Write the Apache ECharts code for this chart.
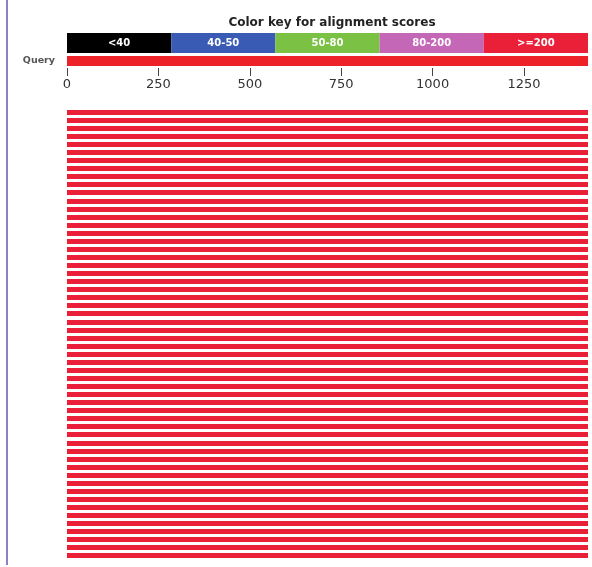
<!DOCTYPE html>
<html>
<head>
<meta charset="utf-8">
<script src="https://cdn.jsdelivr.net/npm/echarts@6/dist/echarts.min.js"></script>
<style>
  html, body { margin: 0; padding: 0; background: #fff; }
  #chart { width: 592px; height: 567px; }
</style>
</head>
<body>
<div id="chart"></div>
<script>
// Score classes shown in the colour key
const keyLabels = ['<40', '40-50', '50-80', '80-200', '>=200'];
const keyColors = ['#000000', '#3a5bb4', '#7bc143', '#c367b6', '#ea2039'];

// Query sequence and its coordinate ticks
const queryLength = 1425;
const tickValues = [0, 250, 500, 750, 1000, 1250];

// Aligned hits: start and end on the query (all scoring >=200)
const hitStart = [
  1, 1, 1, 1, 1, 1, 1, 1, 1, 1, 1, 1, 1, 1,
  1, 1, 1, 1, 1, 1, 1, 1, 1, 1, 1, 1, 1, 1,
  1, 1, 1, 1, 1, 1, 1, 1, 1, 1, 1, 1, 1, 1,
  1, 1, 1, 1, 1, 1, 1, 1, 1, 1, 1, 1, 1, 1
];
const hitEnd = [
  1425, 1425, 1425, 1425, 1425, 1425, 1425, 1425, 1425, 1425, 1425, 1425, 1425, 1425,
  1425, 1425, 1425, 1425, 1425, 1425, 1425, 1425, 1425, 1425, 1425, 1425, 1425, 1425,
  1425, 1425, 1425, 1425, 1425, 1425, 1425, 1425, 1425, 1425, 1425, 1425, 1425, 1425,
  1425, 1425, 1425, 1425, 1425, 1425, 1425, 1425, 1425, 1425, 1425, 1425, 1425, 1425
];
const hitClass = 4; // index into keyColors

const font = 'DejaVu Sans, Verdana, sans-serif';
const chart = echarts.init(document.getElementById('chart'), null, { renderer: 'canvas' });

const hitRows = hitStart.map((_, i) => i);
const hitData = hitStart.map((s, i) => [s, hitEnd[i], i]);

chart.setOption({
  animation: false,
  backgroundColor: '#ffffff',
  graphic: [
    { type: 'rect', shape: { x: 6, y: 0, width: 2, height: 565 }, style: { fill: '#8783c6' }, silent: true },
    {
      type: 'text', x: 332, y: 23,
      style: {
        text: 'Color key for alignment scores', fill: '#222',
        font: 'bold 12px ' + font, align: 'center', verticalAlign: 'middle'
      }
    }
  ],
  grid: [
    { left: 67, right: 4, top: 33, height: 20 },
    { left: 67, right: 4, top: 56, height: 10 },
    { left: 67, right: 4, top: 108.3, height: 451.7 }
  ],
  xAxis: [
    { gridIndex: 0, type: 'category', data: keyLabels, show: false },
    {
      gridIndex: 1, type: 'value', min: 0, max: queryLength, position: 'bottom', offset: 2,
      splitLine: { show: false },
      axisLine: { show: false },
      axisTick: { show: true, length: 8, customValues: tickValues, lineStyle: { color: '#444', width: 1 } },
      axisLabel: {
        customValues: tickValues, margin: 10, color: '#333', fontSize: 13, fontFamily: font,
        formatter: v => String(v)
      }
    },
    { gridIndex: 2, type: 'value', min: 0, max: queryLength, show: false }
  ],
  yAxis: [
    { gridIndex: 0, type: 'value', min: 0, max: 1, show: false },
    {
      gridIndex: 1, type: 'category', data: ['Query'],
      axisLine: { show: false }, axisTick: { show: false },
      axisLabel: { margin: 12, color: '#555', fontSize: 9.5, fontWeight: 'bold', fontFamily: font }
    },
    { gridIndex: 2, type: 'category', data: hitRows, inverse: true, show: false }
  ],
  series: [
    {
      type: 'bar', xAxisIndex: 0, yAxisIndex: 0,
      barCategoryGap: 0, barWidth: '100%',
      data: keyLabels.map((name, i) => ({ value: 1, itemStyle: { color: keyColors[i] } })),
      label: {
        show: true, position: 'inside', color: '#fff', fontSize: 10, fontWeight: 'bold', fontFamily: font,
        formatter: p => p.name
      }
    },
    {
      type: 'bar', xAxisIndex: 1, yAxisIndex: 1,
      barWidth: 10,
      data: [queryLength],
      itemStyle: { color: '#ec2228' }
    },
    {
      type: 'custom', xAxisIndex: 2, yAxisIndex: 2,
      data: hitData,
      encode: { x: [0, 1], y: 2 },
      renderItem: function (params, api) {
        const p0 = api.coord([api.value(0) - 1, api.value(2)]);
        const p1 = api.coord([api.value(1), api.value(2)]);
        const h = 5;
        const top = Math.round(p0[1] - h / 2);
        return {
          type: 'rect',
          shape: { x: Math.round(p0[0]), y: top, width: Math.round(p1[0] - p0[0]), height: h },
          style: { fill: keyColors[hitClass] }
        };
      }
    }
  ]
});
</script>
</body>
</html>
